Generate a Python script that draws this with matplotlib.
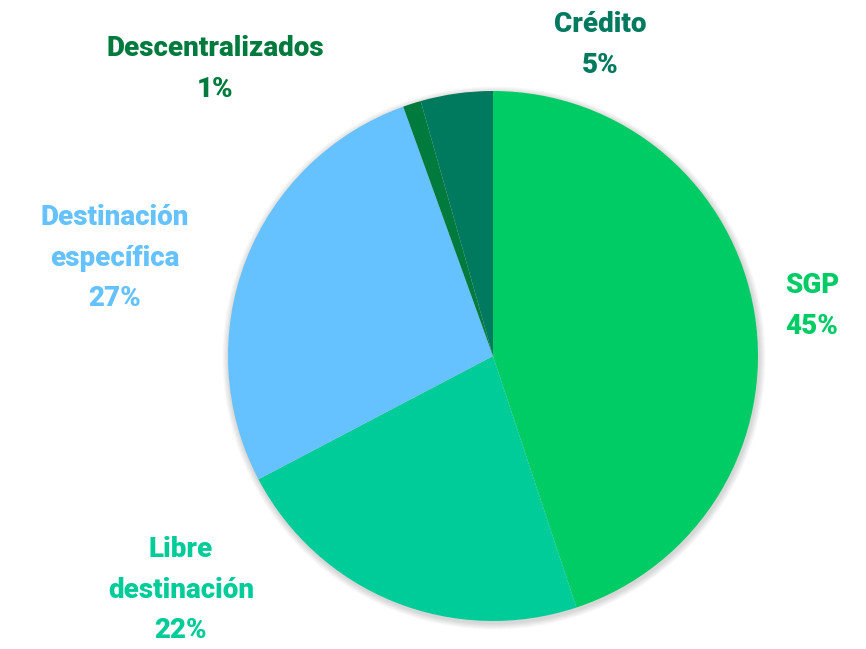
import matplotlib.pyplot as plt
from matplotlib.patches import Circle

# datos
categorias = ["SGP", "Libre\ndestinación", "Destinación\nespecífica", "Descentralizados", "Crédito"]
valores = [44.9, 22.4, 27.2, 1.1, 4.4]
porcentajes = ["45%", "22%", "27%", "1%", "5%"]
colores = ["#00CC66", "#00CC99", "#66C2FF", "#007A3D", "#007A5E"]

plt.rcParams['font.family'] = ['Roboto', 'DejaVu Sans']

fig = plt.figure(figsize=(8.66, 6.49), dpi=100)
ax = fig.add_axes([0, 0, 1, 1])

cx, cy, r = 493, 649 - 356, 265

# sombra suave
for i in range(8):
    ax.add_patch(Circle((cx + 1, cy - 2), r + 1 + i * 0.8, color='black', alpha=0.018, lw=0, zorder=0))

ax.pie(valores, colors=colores, startangle=90, counterclock=False,
       center=(cx, cy), radius=r, frame=True,
       wedgeprops=dict(linewidth=0))
ax.set_xlim(0, 866)
ax.set_ylim(0, 649)
ax.set_aspect('equal')
ax.axis('off')

# posiciones de etiquetas (px desde arriba)
pos = [(812, 306), (181, 590), (115, 258), (215, 69), (600, 45)]
for cat, pct, col, (x, y) in zip(categorias, porcentajes, colores, pos):
    ax.text(x, 649 - y, cat + "\n" + pct, color=col, fontsize=20, fontweight='heavy',
            ha='center', va='center', linespacing=1.62)

fig.savefig("out.png", dpi=100)
